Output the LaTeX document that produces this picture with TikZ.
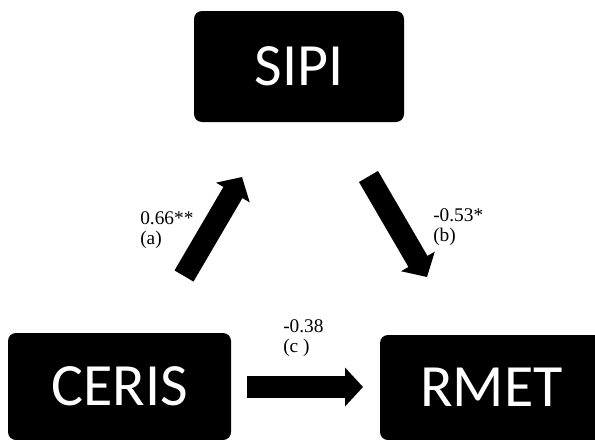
\documentclass[tikz,border=0pt]{standalone}
\usepackage{fontspec}
\setmainfont{Liberation Serif}
\newfontfamily\boxfont{Carlito}
\usepackage{tikz}
\usetikzlibrary{arrows.meta}

\tikzset{
    varbox/.style={fill=black,rounded corners=6pt,text=white,inner sep=0pt,
        font=\boxfont\fontsize{45}{54}\selectfont},
    fatarrow/.style={line width=16.5pt,-{Triangle[width=28.5pt,length=13.5pt]}},
    coef/.style={align=left,anchor=west,inner sep=0pt,font=\fontsize{14.5}{15}\selectfont}
}

\begin{document}
\begin{tikzpicture}[x=0.75pt,y=-0.75pt]
    \clip (0,0) rectangle (595,439);

    \node[varbox,minimum width=157.5pt,minimum height=83.25pt] (sipi) at (299,66.5) {SIPI};
    \node[varbox,minimum width=167.25pt,minimum height=80.25pt] (ceris) at (119.5,386.5) {CERIS};
    \node[varbox,minimum width=167.25pt,minimum height=78.75pt] (rmet) at (491.5,387.5) {RMET};

    \coordinate (a0) at (184,276);
    \coordinate (a1) at (242,177);
    \coordinate (b0) at (368.5,176.5);
    \coordinate (b1) at (427,277);
    \coordinate (c0) at (247,387);
    \coordinate (c1) at (363,387);
    \draw[fatarrow] (a0) -- (a1);
    \draw[fatarrow] (b0) -- (b1);
    \draw[fatarrow] (c0) -- (c1);

    \node[coef] (la) at (140,230) {0.66**\\(a)};
    \node[coef] (lb) at (433,227) {-0.53*\\(b)};
    \node[coef] (lc) at (283,338) {-0.38\\(c )};
\end{tikzpicture}
\end{document}
